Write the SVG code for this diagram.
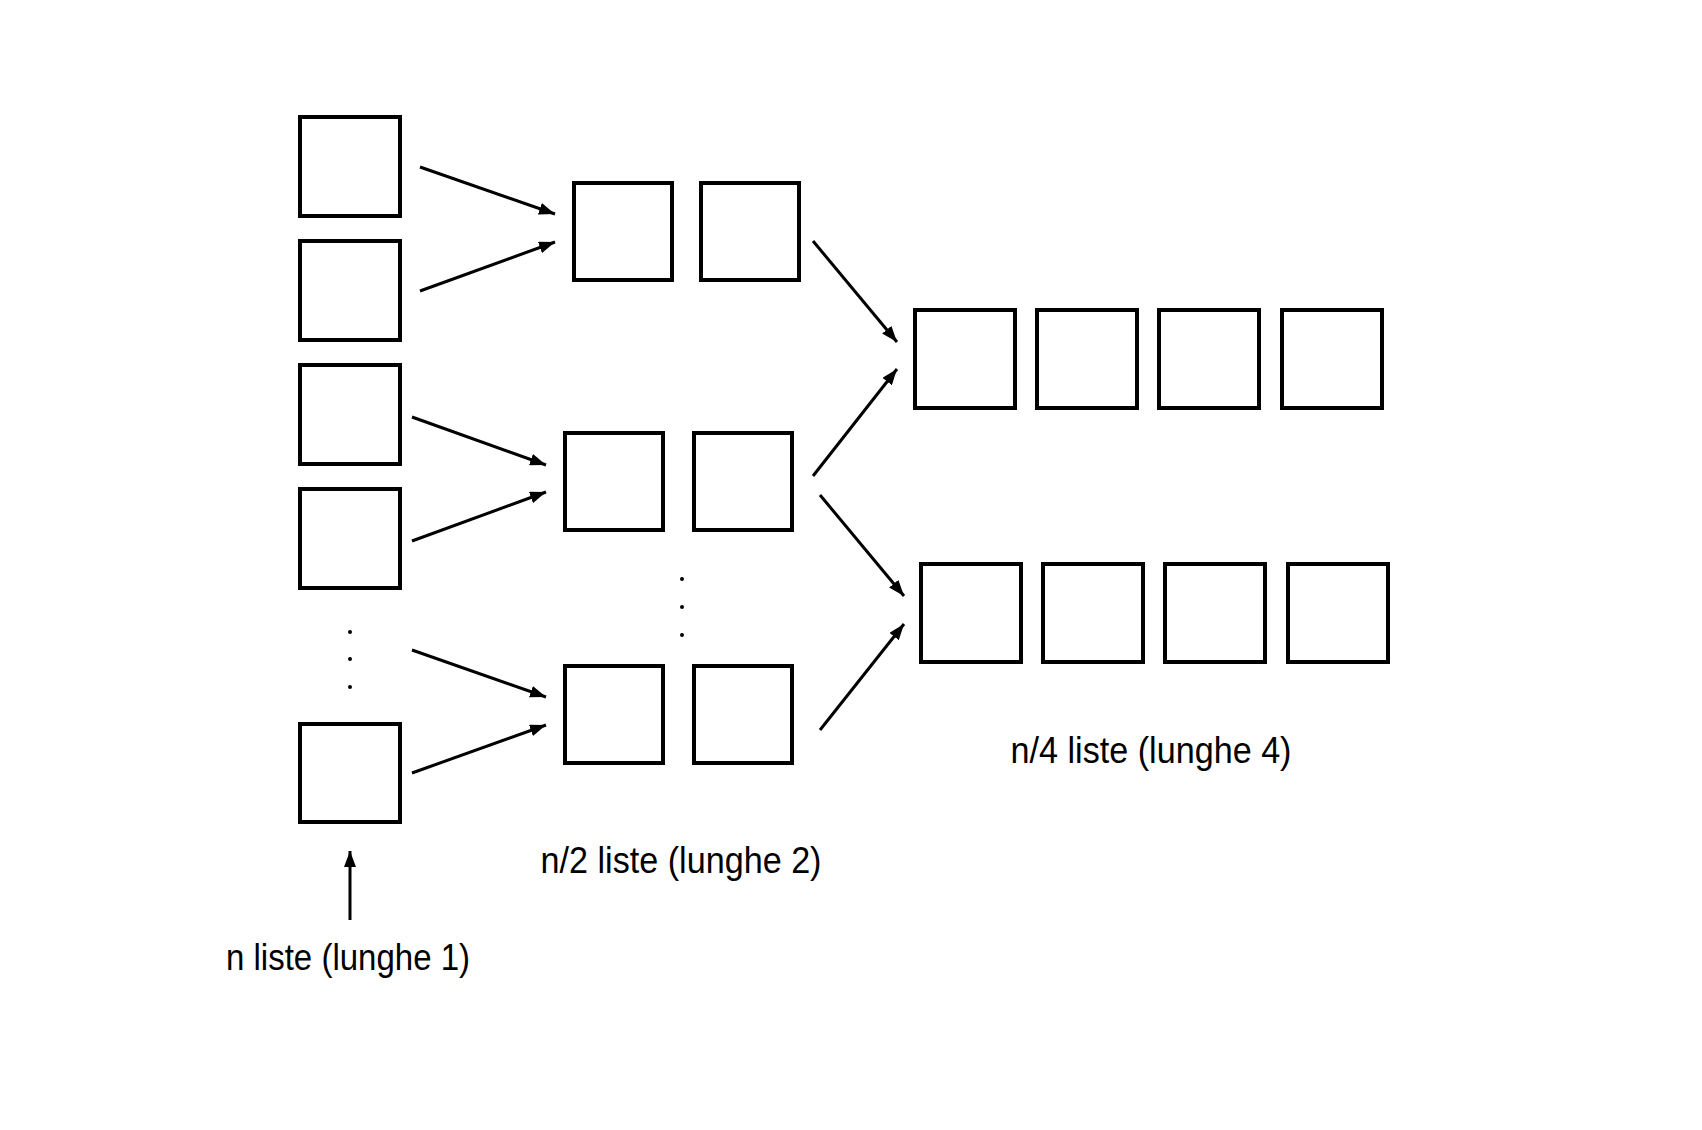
<svg xmlns="http://www.w3.org/2000/svg" width="1702" height="1130" viewBox="0 0 1702 1130">
  <style>
    .box { fill: #ffffff; stroke: #000000; stroke-width: 4; }
    .link { stroke: #000000; stroke-width: 3; fill: none; marker-end: url(#head); }
    .dot { fill: #000000; }
    .label { font-family: "Liberation Sans", Arial, sans-serif; font-size: 37px; fill: #000000; text-anchor: middle; }
  </style>
  <defs>
    <marker id="head" markerUnits="userSpaceOnUse" markerWidth="16" markerHeight="12" refX="16" refY="6" orient="auto">
      <path d="M0,0 L16,6 L0,12 z" fill="#000000"/>
    </marker>
  </defs>
  <rect width="1702" height="1130" fill="#ffffff"/>

  <!-- level 1: n single-element lists -->
  <g id="lists-1">
    <rect class="box" x="300" y="117" width="100" height="99"/>
    <rect class="box" x="300" y="241" width="100" height="99"/>
    <rect class="box" x="300" y="365" width="100" height="99"/>
    <rect class="box" x="300" y="489" width="100" height="99"/>
    <rect class="box" x="300" y="724" width="100" height="98"/>
    <circle class="dot" cx="350" cy="632" r="2"/>
    <circle class="dot" cx="350" cy="659" r="2"/>
    <circle class="dot" cx="350" cy="687" r="2"/>
  </g>

  <!-- level 2: pairs -->
  <g id="lists-2-top">
    <rect class="box" x="574" y="183" width="98" height="97"/>
    <rect class="box" x="701" y="183" width="98" height="97"/>
  </g>
  <g id="lists-2-mid">
    <rect class="box" x="565" y="433" width="98" height="97"/>
    <rect class="box" x="694" y="433" width="98" height="97"/>
  </g>
  <g id="lists-2-bottom">
    <rect class="box" x="565" y="666" width="98" height="97"/>
    <rect class="box" x="694" y="666" width="98" height="97"/>
  </g>
  <g id="dots-2">
    <circle class="dot" cx="682" cy="579" r="2"/>
    <circle class="dot" cx="682" cy="607" r="2"/>
    <circle class="dot" cx="682" cy="635" r="2"/>
  </g>

  <!-- level 3: quadruples -->
  <g id="lists-4-top">
    <rect class="box" x="915" y="310" width="100" height="98"/>
    <rect class="box" x="1037" y="310" width="100" height="98"/>
    <rect class="box" x="1159" y="310" width="100" height="98"/>
    <rect class="box" x="1282" y="310" width="100" height="98"/>
  </g>
  <g id="lists-4-bottom">
    <rect class="box" x="921" y="564" width="100" height="98"/>
    <rect class="box" x="1043" y="564" width="100" height="98"/>
    <rect class="box" x="1165" y="564" width="100" height="98"/>
    <rect class="box" x="1288" y="564" width="100" height="98"/>
  </g>

  <!-- merge arrows -->
  <g id="connectors">
    <line class="link" x1="420" y1="167" x2="555" y2="214"/>
    <line class="link" x1="420" y1="291" x2="555" y2="242"/>
    <line class="link" x1="412" y1="417" x2="546" y2="465"/>
    <line class="link" x1="412" y1="541" x2="546" y2="492"/>
    <line class="link" x1="412" y1="650" x2="546" y2="697"/>
    <line class="link" x1="412" y1="773" x2="546" y2="725"/>
    <line class="link" x1="813" y1="241" x2="897" y2="342"/>
    <line class="link" x1="813" y1="476" x2="897" y2="369"/>
    <line class="link" x1="820" y1="495" x2="904" y2="596"/>
    <line class="link" x1="820" y1="730" x2="904" y2="624"/>
    <line class="link" x1="350" y1="920" x2="350" y2="851"/>
  </g>

  <!-- captions -->
  <g id="labels">
    <text class="label" x="348" y="970" textLength="244" lengthAdjust="spacingAndGlyphs">n liste (lunghe 1)</text>
    <text class="label" x="681" y="873" textLength="281" lengthAdjust="spacingAndGlyphs">n/2 liste (lunghe 2)</text>
    <text class="label" x="1151" y="763" textLength="281" lengthAdjust="spacingAndGlyphs">n/4 liste (lunghe 4)</text>
  </g>
</svg>
